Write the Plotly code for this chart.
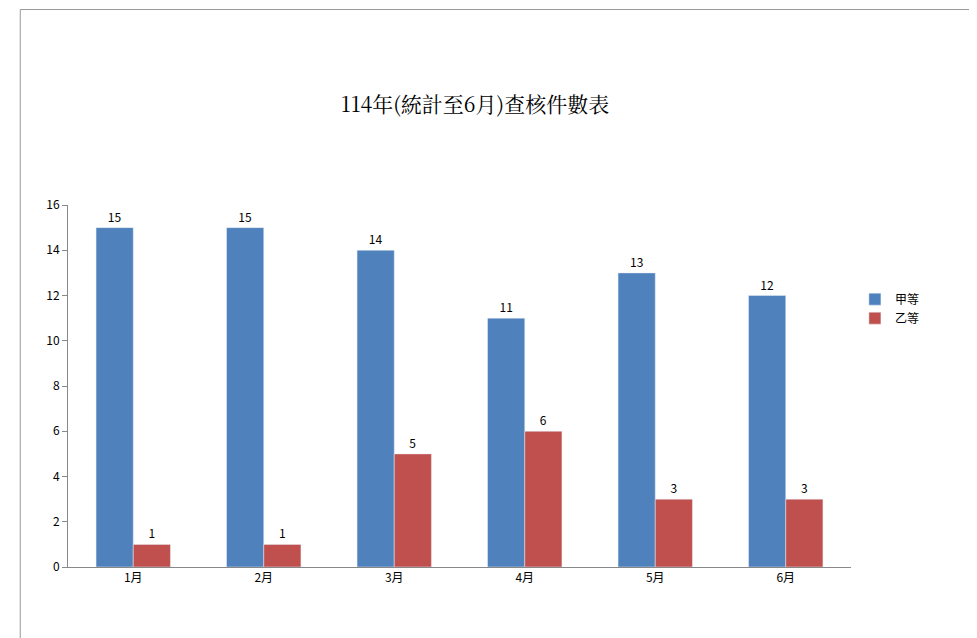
import plotly.graph_objects as go

months = ["1月", "2月", "3月", "4月", "5月", "6月"]
grade_a = [15, 15, 14, 11, 13, 12]
grade_b = [1, 1, 5, 6, 3, 3]

fig = go.Figure()
fig.add_trace(go.Bar(x=months, y=grade_a, name="甲等", marker_color="#4F81BD",
                     text=grade_a, textposition="outside", cliponaxis=False,
                     textfont=dict(size=12, color="black")))
fig.add_trace(go.Bar(x=months, y=grade_b, name="乙等", marker_color="#C0504D",
                     text=grade_b, textposition="outside", cliponaxis=False,
                     textfont=dict(size=12, color="black")))

fig.update_layout(
    width=977, height=638,
    barmode="group", bargap=0.43, bargroupgap=0,
    plot_bgcolor="white", paper_bgcolor="white",
    font=dict(family="Noto Sans CJK TC, sans-serif", size=12, color="black"),
    title=dict(text="114年(統計至6月)查核件數表", x=0.478, xanchor="center", y=0.86,
               font=dict(family="Noto Serif CJK TC, Noto Sans CJK TC", size=21, color="black")),
    margin=dict(l=60, r=134, t=197, b=79),
    legend=dict(x=1.005, y=0.78, xanchor="left", yanchor="top", font=dict(size=12),
                tracegroupgap=4),
    xaxis=dict(showline=True, linecolor="#888", ticks="", tickfont=dict(size=12)),
    yaxis=dict(range=[0, 16], dtick=2, showgrid=False, showline=True, linecolor="#888",
               ticks="outside", ticklen=5, tickcolor="#888", zeroline=False,
               tickfont=dict(size=12)),
    shapes=[dict(type="rect", xref="paper", yref="paper", x0=-0.061, x1=1.158,
                 y0=-0.22, y1=1.54, line=dict(color="#999", width=1))],
)

fig.write_html("out.html")
